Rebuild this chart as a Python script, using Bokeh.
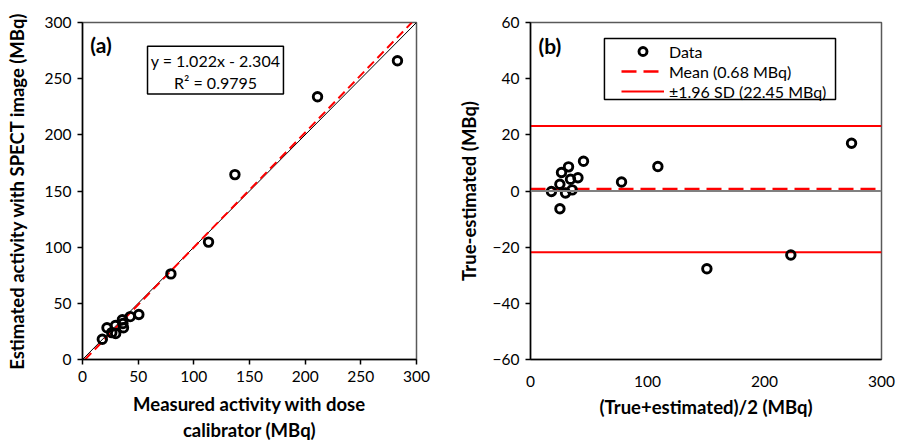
from bokeh.plotting import figure
from bokeh.layouts import row
from bokeh.models import Label, BoxAnnotation, Legend, LegendItem, Span, Range1d, FixedTicker
from bokeh.embed import file_html
from bokeh.resources import INLINE

# ---- data ----
measured = [282.9, 211.1, 136.9, 113.2, 79.4, 50.6, 42.9, 36.8, 36.3, 35.8, 29.6, 29.8, 26.3, 22.0, 17.8]
estimated = [265.9, 233.9, 164.6, 104.5, 76.2, 40.0, 38.2, 28.2, 32.1, 35.4, 30.3, 23.2, 23.9, 28.3, 18.0]
slope = 1.022
intercept = -2.304
r2 = 0.9795
mean_diff = 0.68
sd196 = 22.45
a_ticks = [0, 50, 100, 150, 200, 250, 300]
b_xticks = [0, 100, 200, 300]
b_yticks = [-60, -40, -20, 0, 20, 40, 60]

avg = [(m + e) / 2 for m, e in zip(measured, estimated)]
diff = [m - e for m, e in zip(measured, estimated)]

FONT = "Lato"
RED = "#FF0000"


def style(p):
    p.grid.visible = False
    p.outline_line_color = "#595959"
    p.outline_line_width = 1.5
    p.background_fill_color = "white"
    p.border_fill_color = "white"
    for ax in p.axis:
        ax.axis_line_color = "black"
        ax.axis_line_width = 1.5
        ax.major_tick_line_color = "black"
        ax.major_tick_line_width = 1.5
        ax.major_tick_out = 5
        ax.major_tick_in = 0
        ax.minor_tick_line_color = None
        ax.major_label_text_font = FONT
        ax.major_label_text_font_size = "15.5px"
        ax.major_label_text_color = "black"
        ax.axis_label_text_font = FONT
        ax.axis_label_text_font_style = "bold"
        ax.axis_label_text_font_size = "18.5px"
        ax.axis_label_text_color = "black"


# ---- panel (a) ----
pa = figure(width=450, height=443, output_backend="svg", toolbar_location=None,
            x_range=Range1d(a_ticks[0], a_ticks[-1]), y_range=Range1d(a_ticks[0], a_ticks[-1]),
            min_border_left=82, min_border_right=34, min_border_top=22, min_border_bottom=80)
style(pa)
pa.xaxis.ticker = FixedTicker(ticks=a_ticks)
pa.yaxis.ticker = FixedTicker(ticks=a_ticks)
pa.xaxis.axis_label = "Measured activity with dose\ncalibrator (MBq)"
pa.yaxis.axis_label = "Estimated activity with SPECT image (MBq)"
pa.xaxis.major_label_standoff = 6
pa.yaxis.major_label_standoff = 6
pa.xaxis.axis_label_standoff = 8
pa.yaxis.axis_label_standoff = 14

lo, hi = a_ticks[0], a_ticks[-1]
pa.line([lo, hi], [lo, hi], line_color="black", line_width=1)
x0 = (lo - intercept) / slope
x1 = (hi - intercept) / slope
pa.line([x0, x1], [slope * x0 + intercept, slope * x1 + intercept],
        line_color=RED, line_width=2, line_dash="9 5")
pa.scatter(measured, estimated, marker="circle", size=8.5, fill_color=None,
           line_color="black", line_width=2.9)

pa.add_layout(BoxAnnotation(left=58.4, right=180.5, top=278.8, bottom=236.3,
                            fill_color="white", fill_alpha=1, line_color="black",
                            line_alpha=1, line_width=1.5))
pa.add_layout(Label(x=119.5, y=275.0, text=f"y = {slope}x - {abs(intercept)}\nR\u00b2 = {r2}",
                    text_align="center", text_baseline="top", text_font=FONT,
                    text_font_size="16px", text_color="black", text_line_height=1.2))
pa.add_layout(Label(x=7, y=291.5, text="(a)", text_align="left", text_baseline="top",
                    text_font=FONT, text_font_style="bold", text_font_size="21px",
                    text_color="black"))

# ---- panel (b) ----
pb = figure(width=447, height=443, output_backend="svg", toolbar_location=None,
            x_range=Range1d(b_xticks[0], b_xticks[-1]), y_range=Range1d(b_yticks[0], b_yticks[-1]),
            min_border_left=80, min_border_right=16, min_border_top=22, min_border_bottom=84)
style(pb)
pb.xaxis.ticker = FixedTicker(ticks=b_xticks)
pb.yaxis.ticker = FixedTicker(ticks=b_yticks)
pb.xaxis.major_tick_line_color = None
pb.xaxis.major_label_standoff = 11
pb.yaxis.major_label_standoff = 6
pb.xaxis.axis_label = "(True+estimated)/2 (MBq)"
pb.yaxis.axis_label = "True-estimated (MBq)"
pb.xaxis.axis_label_standoff = 6
pb.yaxis.axis_label_standoff = 10

pb.add_layout(Span(location=0, dimension="width", line_color="#808080", line_width=2))
xs = [b_xticks[0], b_xticks[-1]]
r_mean = pb.line(xs, [mean_diff, mean_diff], line_color=RED, line_width=2.5, line_dash="15 7")
r_up = pb.line(xs, [mean_diff + sd196] * 2, line_color=RED, line_width=2)
pb.line(xs, [mean_diff - sd196] * 2, line_color=RED, line_width=2)
r_data = pb.scatter(avg, diff, marker="circle", size=8.5, fill_color=None,
                    line_color="black", line_width=2.9)

pb.add_layout(BoxAnnotation(left=63.2, right=260.7, top=54.3, bottom=32.6,
                            fill_color="white", fill_alpha=1, line_color="black",
                            line_alpha=1, line_width=1.5))
leg = Legend(items=[LegendItem(label="Data", renderers=[r_data]),
                    LegendItem(label=f"Mean ({mean_diff} MBq)", renderers=[r_mean]),
                    LegendItem(label=f"\u00b11.96 SD ({sd196} MBq)", renderers=[r_up])],
             location=(91, 258), orientation="vertical",
             border_line_color=None, background_fill_alpha=0,
             padding=2, margin=0, spacing=0, label_height=20, glyph_height=20,
             glyph_width=43, label_standoff=5,
             label_text_font=FONT, label_text_font_size="16px", label_text_color="black")
pb.add_layout(leg)
pb.add_layout(Label(x=6.8, y=56.4, text="(b)", text_align="left", text_baseline="top",
                    text_font=FONT, text_font_style="bold", text_font_size="21px",
                    text_color="black"))

layout = row(pa, pb)
open("out.html", "w").write(file_html(layout, INLINE))
